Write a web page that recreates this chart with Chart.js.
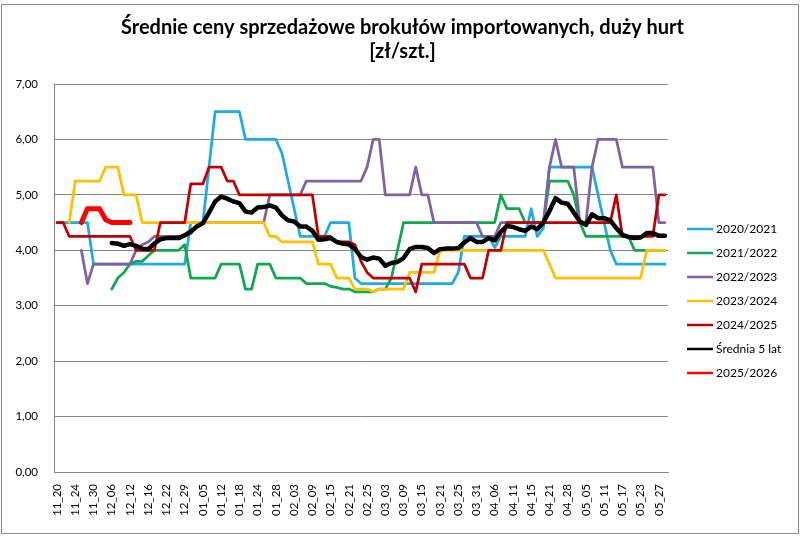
<!DOCTYPE html>
<html>
<head>
<meta charset="utf-8">
<script src="https://cdn.jsdelivr.net/npm/chart.js@4/dist/chart.umd.min.js"></script>
<style>
html,body{margin:0;padding:0;background:#fff;}
canvas{display:block;}
</style>
</head>
<body>
<canvas id="c" width="805" height="539"></canvas>
<script>
// ---- data ----
const tickLabels = ['11_20','11_24','11_30','12_06','12_12','12_16','12_22','12_29','01_05','01_12','01_18','01_24','01_28','02_03','02_09','02_15','02_21','02_25','03_03','03_09','03_15','03_21','03_25','03_31','04_06','04_11','04_15','04_21','04_28','05_05','05_11','05_17','05_23','05_27'];
const categoryCount = 101;
const labelStep = 3;

const seriesNames = ['2020/2021','2021/2022','2022/2023','2023/2024','2024/2025','Średnia 5 lat','2025/2026'];

const s2020_2021 = [4.5,4.5,4.5,4.5,4.5,4.5,
3.75,3.75,3.75,3.75,3.75,3.75,3.75,3.75,3.75,3.75,3.75,3.75,3.75,3.75,3.75,3.75,
4.5,4.5,4.5,5.5,
6.5,6.5,6.5,6.5,6.5,
6,6,6,6,6,6,
5.75,5.25,4.75,
4.25,4.25,4.25,4.25,4.25,
4.5,4.5,4.5,4.5,
3.5,
3.4,3.4,3.4,3.4,3.4,3.4,3.4,3.4,3.4,3.4,3.4,3.4,3.4,3.4,3.4,3.4,
3.6,
4.25,4.25,4.25,4.25,4.25,
4.05,
4.25,4.25,4.25,4.25,4.25,
4.75,4.25,4.4,
5.5,5.5,5.5,5.5,5.5,5.5,5.5,5.5,
5,4.5,4,
3.75,3.75,3.75,3.75,3.75,3.75,3.75,3.75,3.75];

const s2021_2022 = [null,null,null,null,null,null,null,null,null,
3.3,3.5,3.6,3.75,3.8,3.8,3.9,
4,4,4,4,4,
4.1,
3.5,3.5,3.5,3.5,3.5,
3.75,3.75,3.75,3.75,
3.3,3.3,
3.75,3.75,3.75,
3.5,3.5,3.5,3.5,3.5,
3.4,3.4,3.4,3.4,
3.35,3.33,3.3,3.3,
3.25,3.25,3.25,3.25,
3.3,3.3,
3.5,4,
4.5,4.5,4.5,4.5,4.5,4.5,4.5,4.5,4.5,4.5,4.5,4.5,4.5,4.5,4.5,4.5,
5,
4.75,4.75,4.75,
4.5,4.5,4.5,4.5,
5.25,5.25,5.25,5.25,
5,4.5,
4.25,4.25,4.25,4.25,4.25,4.25,4.25,4.25,
4,4,4,4,4,4];

const s2022_2023 = [null,null,null,null,
4,3.4,
3.75,3.75,3.75,3.75,3.75,3.75,3.75,
4,4.1,4.15,
4.25,4.25,4.25,4.25,4.25,4.25,
4.3,4.45,
4.5,4.5,4.5,4.5,4.5,4.5,4.5,4.5,4.5,4.5,4.5,
5,5,5,5,5,5,
5.25,5.25,5.25,5.25,5.25,5.25,5.25,5.25,5.25,5.25,
5.5,6,6,
5,5,5,5,5,
5.5,
5,5,
4.5,4.5,4.5,4.5,4.5,4.5,4.5,4.5,
4.25,4.25,4.25,
4.5,4.5,4.5,4.5,4.5,4.5,4.5,4.5,
5.5,6,
5.5,5.5,5.5,
4.5,4.5,
5.5,
6,6,6,6,
5.5,5.5,5.5,5.5,5.5,5.5,
4.5,4.5];

const s2023_2024 = [null,null,
4.5,
5.25,5.25,5.25,5.25,5.25,
5.5,5.5,5.5,
5,5,5,
4.5,4.5,4.5,4.5,4.5,4.5,4.5,4.5,4.5,4.5,4.5,4.5,4.5,4.5,4.5,4.5,4.5,4.5,4.5,4.5,4.5,
4.25,4.25,
4.15,4.15,4.15,4.15,4.15,4.15,
3.75,3.75,3.75,
3.5,3.5,3.5,
3.3,3.3,3.3,
3.25,
3.3,3.3,3.3,3.3,3.3,
3.6,3.6,3.6,3.6,3.6,
4,4,4,4,4,4,4,4,4,4,4,4,4,4,4,4,4,4,
3.75,
3.5,3.5,3.5,3.5,3.5,3.5,3.5,3.5,3.5,3.5,3.5,3.5,3.5,3.5,3.5,
4,4,4,4];

const s2024_2025 = [4.5,4.5,
4.25,4.25,4.25,4.25,4.25,4.25,4.25,4.25,4.25,4.25,4.25,
4,4,4,4,
4.5,4.5,4.5,4.5,4.5,
5.2,5.2,5.2,
5.5,5.5,5.5,
5.25,5.25,
5,5,5,5,5,5,5,5,5,5,5,5,5,
4.25,4.25,4.25,
4.15,4.15,4.15,
4.1,3.8,3.6,
3.5,3.5,3.5,3.5,3.5,3.5,3.5,
3.25,
3.75,3.75,3.75,3.75,3.75,3.75,3.75,3.75,
3.5,3.5,3.5,
4,4,4,
4.5,4.5,4.5,4.5,4.5,4.5,4.5,4.5,4.5,4.5,4.5,4.5,4.5,4.5,4.5,4.5,4.5,4.5,
5,
4.25,4.25,4.25,4.25,4.25,4.25,
5,5];

const sAvg5 = [null,null,null,null,null,null,null,null,null,
4.13,4.12,4.08,4.11,4.08,4.03,4.02,4.12,4.2,4.22,
4.22,4.22,4.27,4.34,4.43,4.49,4.68,4.88,4.97,4.93,
4.88,4.85,4.7,4.68,4.77,4.78,4.81,4.77,4.63,4.54,
4.52,4.43,4.43,4.35,4.19,4.2,4.22,4.15,4.12,4.11,
4.02,3.88,3.83,3.87,3.85,3.72,3.77,3.79,3.86,4.02,
4.06,4.06,4.04,3.95,4.02,4.03,4.03,4.04,4.14,4.22,
4.15,4.15,4.22,4.18,4.33,4.44,4.42,4.38,4.35,4.43,
4.38,4.5,4.71,4.94,4.86,4.84,4.68,4.52,4.46,4.65,
4.58,4.58,4.54,4.4,4.28,4.24,4.22,4.23,4.31,4.31,
4.26,4.26];

const s2025_2026 = [null,null,null,null,4.5,4.75,4.75,4.75,4.55,4.5,4.5,4.5,4.5];

const yTicks = [0,1,2,3,4,5,6,7];

// ---- categories built from the tick labels ----
const categories = [];
for (let i = 0; i < categoryCount; i++) {
  categories.push(i % labelStep === 0 && tickLabels[i / labelStep] ? tickLabels[i / labelStep] : '');
}

const seriesData = [s2020_2021, s2021_2022, s2022_2023, s2023_2024, s2024_2025, sAvg5, s2025_2026];
const colors = ['#1CACE4','#0FA84C','#7F63A1','#FFC000','#C00000','#000000','#FF0000'];
const widths = [2.75,2.75,2.75,2.75,2.75,4.5,5];

const FONT = 'Lato';

const frame = {
  id: 'frame',
  beforeDraw(chart) {
    const c = chart.ctx;
    c.save();
    c.fillStyle = '#fff';
    c.fillRect(0, 0, chart.width, chart.height);
    c.strokeStyle = '#8a8a8a';
    c.lineWidth = 1;
    c.strokeRect(1.5, 4.5, chart.width - 8, chart.height - 10);
    c.restore();
  }
};

const sideLegend = {
  id: 'sideLegend',
  afterDraw(chart) {
    const c = chart.ctx;
    const area = chart.chartArea;
    const x0 = area.right + 19;
    const y0 = area.top + 145;
    c.save();
    c.font = '12px ' + FONT;
    c.textBaseline = 'middle';
    c.textAlign = 'left';
    chart.data.datasets.forEach((ds, i) => {
      const y = y0 + i * 24;
      c.strokeStyle = ds.borderColor;
      c.lineWidth = 2.5;
      c.beginPath();
      c.moveTo(x0, y);
      c.lineTo(x0 + 26, y);
      c.stroke();
      c.fillStyle = '#000';
      c.fillText(ds.label, x0 + 29, y);
    });
    c.restore();
  }
};

new Chart(document.getElementById('c'), {
  type: 'line',
  data: {
    labels: categories,
    datasets: seriesNames.map((name, i) => ({
      label: name,
      data: seriesData[i],
      borderColor: colors[i],
      backgroundColor: colors[i],
      borderWidth: widths[i],
      order: seriesNames.length - 1 - i
    }))
  },
  options: {
    responsive: false,
    animation: false,
    devicePixelRatio: 1,
    layout: { padding: 0 },
    elements: {
      point: { radius: 0, hoverRadius: 0 },
      line: { tension: 0, fill: false, borderJoinStyle: 'round', borderCapStyle: 'round' }
    },
    plugins: {
      legend: { display: false },
      tooltip: { enabled: false },
      title: {
        display: true,
        text: ['Średnie ceny sprzedażowe brokułów importowanych, duży hurt', '[zł/szt.]'],
        color: '#000',
        font: { family: FONT, size: 20, weight: 'bold', lineHeight: '24px' },
        padding: { top: 16, bottom: 20 }
      }
    },
    scales: {
      x: {
        type: 'category',
        offset: true,
        grid: { display: false, drawTicks: false },
        border: { display: true, color: '#868686', width: 1 },
        ticks: {
          autoSkip: false, maxRotation: 90, minRotation: 90, padding: 12,
          color: '#000', font: { family: FONT, size: 11.5 }
        },
        afterFit(s) { s.height = 67; }
      },
      y: {
        min: yTicks[0], max: yTicks[yTicks.length - 1],
        grid: { color: '#868686', drawTicks: false, lineWidth: 1 },
        border: { display: true, color: '#868686', width: 1 },
        ticks: {
          stepSize: 1, padding: 16, color: '#000',
          font: { family: FONT, size: 11.5 },
          callback: v => v.toFixed(2).replace('.', ',')
        },
        afterFit(s) { s.width = 54; }
      },
      legendSpace: {
        type: 'linear',
        position: 'right',
        display: true,
        grid: { display: false, drawTicks: false },
        border: { display: false },
        ticks: { display: false },
        afterFit(s) { s.width = 137; }
      }
    }
  },
  plugins: [frame, sideLegend]
});
</script>
</body>
</html>
